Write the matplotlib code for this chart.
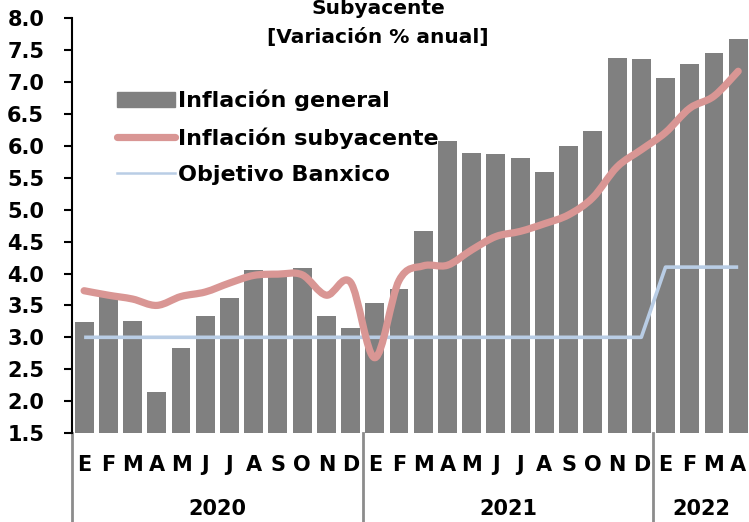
import numpy as np
import matplotlib
matplotlib.use('Agg')
import matplotlib.pyplot as plt
from matplotlib.path import Path
from matplotlib.patches import PathPatch
from matplotlib.lines import Line2D
import matplotlib.transforms as mtransforms

# Data
months = ['E', 'F', 'M', 'A', 'M', 'J', 'J', 'A', 'S', 'O', 'N', 'D',
          'E', 'F', 'M', 'A', 'M', 'J', 'J', 'A', 'S', 'O', 'N', 'D',
          'E', 'F', 'M', 'A']
years = ['2020', '2021', '2022']
year_counts = [12, 12, 4]

general = [3.24, 3.70, 3.25, 2.15, 2.84, 3.33, 3.62, 4.05, 4.01, 4.09, 3.33, 3.15,
           3.54, 3.76, 4.67, 6.08, 5.89, 5.88, 5.81, 5.59, 6.00, 6.24, 7.37, 7.36,
           7.07, 7.28, 7.45, 7.68]
subyacente = [3.73, 3.66, 3.60, 3.50, 3.64, 3.71, 3.85, 3.97, 3.99, 3.98, 3.66, 3.86,
              2.68, 3.89, 4.12, 4.13, 4.37, 4.58, 4.66, 4.78, 4.92, 5.19, 5.67, 5.94,
              6.21, 6.59, 6.78, 7.17]
objetivo = [3.0, 3.0, 3.0, 3.0, 3.0, 3.0, 3.0, 3.0, 3.0, 3.0, 3.0, 3.0,
            3.0, 3.0, 3.0, 3.0, 3.0, 3.0, 3.0, 3.0, 3.0, 3.0, 3.0, 3.0,
            4.1, 4.1, 4.1, 4.1]

BAR = '#808080'
PINK = '#D99694'
BLUE = '#B9CDE5'
FONT = 'DejaVu Sans'

plt.rcParams['font.family'] = FONT
plt.rcParams['font.weight'] = 'bold'

fig = plt.figure(figsize=(7.49, 5.22), dpi=100)
ax = fig.add_axes([72 / 749, 89 / 522, 678.3 / 749, 414.7 / 522])

x = np.arange(len(general))
bars = ax.bar(x, general, width=0.78, bottom=0, color=BAR, edgecolor='none', zorder=1)


# smoothed line like Excel: Catmull-Rom segments drawn as cubic Bezier curves
def smooth_path(xs, ys):
    pts = np.column_stack([xs, ys])
    verts = [pts[0]]
    codes = [Path.MOVETO]
    n = len(pts)
    for i in range(n - 1):
        p0 = pts[i - 1] if i > 0 else pts[i]
        p1 = pts[i]
        p2 = pts[i + 1]
        p3 = pts[i + 2] if i + 2 < n else pts[i + 1]
        c1 = p1 + (p2 - p0) / 6.0
        c2 = p2 - (p3 - p1) / 6.0
        verts += [c1, c2, p2]
        codes += [Path.CURVE4] * 3
    return Path(verts, codes)


ax.add_patch(PathPatch(smooth_path(x, subyacente), facecolor='none', edgecolor=PINK,
                       lw=5.2, capstyle='round', joinstyle='round', zorder=3))
ax.plot(x, objetivo, color=BLUE, lw=2.6, zorder=2, solid_capstyle='butt')

ax.set_xlim(-0.5, len(general) - 0.5)
ax.set_ylim(1.5, 8.0)
ax.set_yticks(np.arange(1.5, 8.01, 0.5))
ax.set_yticklabels([f'{v:.1f}' for v in np.arange(1.5, 8.01, 0.5)],
                   fontsize=15, fontweight='bold')
ax.tick_params(axis='y', direction='out', length=6, width=1.5, pad=14)
ax.set_xticks([])

for s in ['top', 'right', 'bottom']:
    ax.spines[s].set_visible(False)
ax.spines['left'].set_linewidth(1.5)

# category labels under the axis
trans = mtransforms.blended_transform_factory(ax.transData, ax.transAxes)
for i, m in enumerate(months):
    ax.text(i, -0.077, m, transform=trans, ha='center', va='center',
            fontsize=15, fontweight='bold')

start = 0
for yr, cnt in zip(years, year_counts):
    ax.text(start + (cnt - 1) / 2, -0.183, yr, transform=trans, ha='center',
            va='center', fontsize=15, fontweight='bold')
    ax.plot([start - 0.5, start - 0.5], [0, -0.25], transform=trans, color='#8c8c8c',
            lw=2, clip_on=False, zorder=0)
    start += cnt

# title (top line partly cut off in the original)
fig.text(0.505, 1 - 8 / 522, 'Subyacente', ha='center', va='center',
         fontsize=14.5, fontweight='bold')
fig.text(0.505, 1 - 37 / 522, '[Variación % anual]', ha='center', va='center',
         fontsize=14.5, fontweight='bold')

handles = [
    plt.Rectangle((0, 0), 1, 1, color=BAR),
    Line2D([0], [0], color=PINK, lw=5.2, solid_capstyle='round'),
    Line2D([0], [0], color=BLUE, lw=1.8),
]
labels = ['Inflación general', 'Inflación subyacente', 'Objetivo Banxico']
ax.legend(handles, labels, loc='upper left', bbox_to_anchor=(0.066, 0.828),
          frameon=False, prop={'size': 16, 'weight': 'bold'}, handlelength=2.6,
          handleheight=0.7, handletextpad=0.15, labelspacing=0.72, borderpad=0,
          borderaxespad=0)

fig.savefig('out.png', dpi=100)
